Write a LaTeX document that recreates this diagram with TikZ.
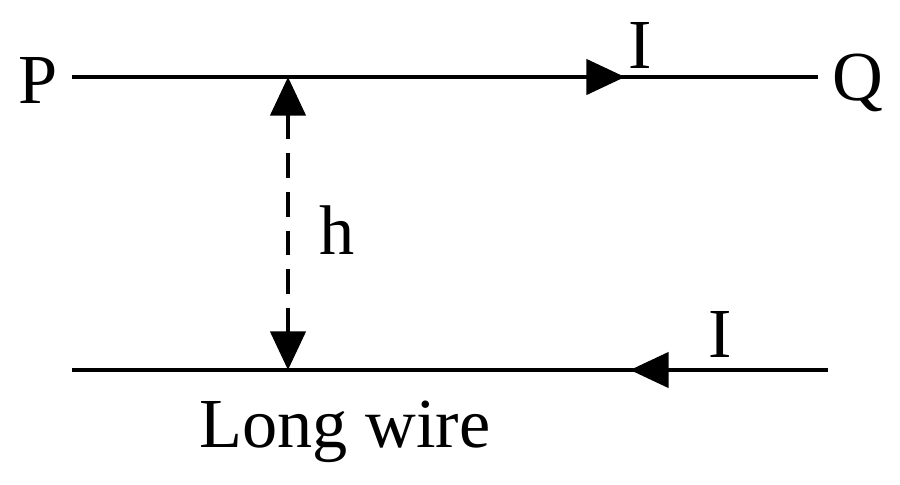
\documentclass[tikz,border=0pt]{standalone}
\usepackage{fontspec}
\setmainfont{Liberation Serif}
\usetikzlibrary{arrows.meta}
\begin{document}
\begin{tikzpicture}[x=0.02cm,y=-0.02cm,
  wire/.style={line width=2.4pt},
  tip/.style={-{Triangle[length=22pt,width=20pt]}},
  lbl/.style={font=\fontsize{40}{44}\selectfont, inner sep=0pt}]
\useasboundingbox (0,0) rectangle (900,484);
\coordinate (a1) at (72,77);
\coordinate (a2) at (818,77);
\coordinate (am) at (625,77);
\coordinate (b1) at (72,370);
\coordinate (b2) at (828,370);
\coordinate (bm) at (630,370);
\coordinate (t) at (288,77);
\coordinate (b) at (288,370);
\draw[wire] (a1) -- (a2);
\draw[wire,tip] (a1) -- (am);
\draw[wire] (b1) -- (b2);
\draw[wire,tip] (b2) -- (bm);
\draw[wire,dash pattern=on 14pt off 8pt,{Triangle[length=22pt,width=20pt]}-{Triangle[length=22pt,width=20pt]}] (t) -- (b);
\node[lbl] (P) at (38,80) {P};
\node[lbl] (Q) at (858,83) {Q};
\node[lbl] (I1) at (640,45) {I};
\node[lbl] (I2) at (720,334) {I};
\node[lbl] (h) at (337,230) {h};
\node[lbl] (L) at (345,432) {Long wire};
\end{tikzpicture}
\end{document}
